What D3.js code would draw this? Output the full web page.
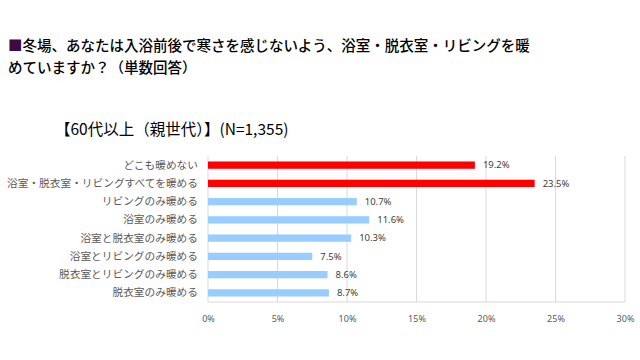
<!DOCTYPE html>
<html><head><meta charset="utf-8">
<script src="https://cdn.jsdelivr.net/npm/d3@7"></script>
<style>body{margin:0;background:#fff;} text{font-family:"Noto Sans CJK JP","Noto Sans",sans-serif;}</style>
</head><body>
<svg id="c" width="640" height="360"></svg>
<script>
const categories = ["どこも暖めない","浴室・脱衣室・リビングすべてを暖める","リビングのみ暖める","浴室のみ暖める","浴室と脱衣室のみ暖める","浴室とリビングのみ暖める","脱衣室とリビングのみ暖める","脱衣室のみ暖める"];
const values = [19.2,23.5,10.7,11.6,10.3,7.5,8.6,8.7];
const highlight = [true,true,false,false,false,false,false,false];
const xTicks = [0,5,10,15,20,25,30];
const titleLines = ["冬場、あなたは入浴前後で寒さを感じないよう、浴室・脱衣室・リビングを暖","めていますか？（単数回答）"];
const subtitle = "【60代以上（親世代）】";
const subtitleN = "(N=1,355)";

const svg = d3.select("#c");
const L=208, R=625, T=156, B=302;
const x = d3.scaleLinear().domain([0,30]).range([L,R]);
const y = d3.scaleBand().domain(categories).range([T,B]).paddingInner(0.6).paddingOuter(0.3);

// title
const t1 = svg.append("text").attr("x",8).attr("y",51).attr("font-size",14.5).attr("font-weight",500).attr("fill","#000");
t1.append("tspan").attr("fill","#3f0a3f").text("■");
t1.append("tspan").text(titleLines[0]);
svg.append("text").attr("x",8).attr("y",73).attr("font-size",14.5).attr("font-weight",500).attr("fill","#000").text(titleLines[1]);

const st = svg.append("text").attr("x",55).attr("y",135).attr("font-size",15.5).attr("fill","#000");
st.append("tspan").text(subtitle);
st.append("tspan").text(subtitleN);

// grid
svg.append("g").selectAll("line").data(xTicks).join("line")
  .attr("x1",d=>x(d)).attr("x2",d=>x(d)).attr("y1",T).attr("y2",B)
  .attr("stroke","#d9d9d9").attr("stroke-width",1);
svg.append("line").attr("x1",L).attr("x2",R).attr("y1",B).attr("y2",B).attr("stroke","#d9d9d9");

// x axis
const xa = svg.append("g").attr("transform",`translate(0,${B})`)
  .call(d3.axisBottom(x).tickValues(xTicks).tickFormat(d=>d+"%").tickSize(0).tickPadding(14));
xa.select(".domain").remove();
xa.selectAll("text").attr("font-size",9).attr("fill","#595959").style("font-family","'Noto Sans',sans-serif");

// y labels
const ya = svg.append("g").attr("transform",`translate(${L},0)`)
  .call(d3.axisLeft(y).tickSize(0).tickPadding(10));
ya.select(".domain").remove();
ya.selectAll("text").attr("font-size",10.7).attr("fill","#595959");

// bars
svg.append("g").selectAll("rect").data(values).join("rect")
  .attr("x",x(0)).attr("y",(d,i)=>y(categories[i]))
  .attr("width",d=>x(d)-x(0)).attr("height",y.bandwidth())
  .attr("fill",(d,i)=>highlight[i]?"#ff0000":"#99ccff");

svg.append("g").selectAll("text").data(values).join("text")
  .attr("x",d=>x(d)+8).attr("y",(d,i)=>y(categories[i])+y.bandwidth()/2)
  .attr("dy","0.35em").attr("font-size",9.5).attr("fill","#404040")
  .style("font-family","'Noto Sans',sans-serif")
  .text(d=>d.toFixed(1)+"%");
</script>
</body></html>
